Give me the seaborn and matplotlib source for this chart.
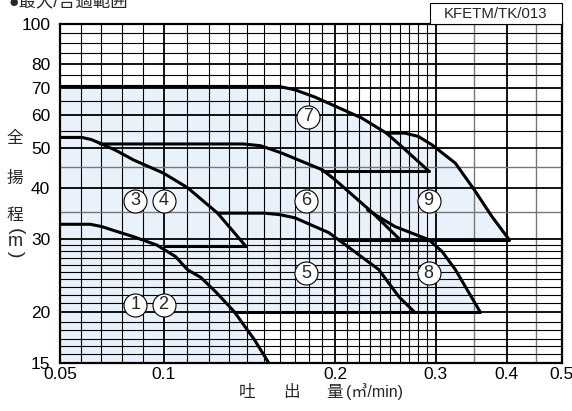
import numpy as np
import matplotlib
matplotlib.use("Agg")
import matplotlib.pyplot as plt
import seaborn as sns
from matplotlib.patches import Rectangle
from matplotlib.ticker import NullLocator

# 吐出量 (m3/min) と 全揚程 (m) : 各ポンプ範囲の上側カーブ
q_12 = [0.05, 0.0646, 0.070, 0.075, 0.0856, 0.0969, 0.105, 0.1101, 0.1163, 0.124, 0.133, 0.1443, 0.153]
h_12 = [32.6, 32.6, 32.2, 31.6, 30.4, 29.0, 27.2, 25.3, 24.2, 22.2, 20.0, 17.1, 15.0]
q_34 = [0.05, 0.0605, 0.065, 0.0694, 0.077, 0.0856, 0.100, 0.1102, 0.1244, 0.1395]
h_34 = [53.0, 53.0, 52.4, 51.3, 49.3, 46.7, 43.4, 40.0, 34.7, 28.8]
q_5 = [0.1245, 0.150, 0.160, 0.170, 0.195, 0.211, 0.2385, 0.259, 0.275]
h_5 = [34.7, 34.7, 34.4, 33.8, 31.1, 28.7, 25.3, 21.7, 20.0]
q_6 = [0.0694, 0.138, 0.148, 0.161, 0.190, 0.200, 0.232, 0.260]
h_6 = [51.1, 51.1, 50.6, 48.6, 44.2, 41.8, 34.9, 29.9]
q_7 = [0.05, 0.1595, 0.170, 0.184, 0.2226, 0.246, 0.262, 0.292]
h_7 = [70.5, 70.5, 69.2, 66.5, 59.1, 54.3, 50.3, 43.9]
q_8 = [0.228, 0.2545, 0.292, 0.308, 0.325, 0.359]
h_8 = [35.3, 32.2, 29.9, 28.0, 25.3, 20.0]
q_9 = [0.246, 0.265, 0.280, 0.296, 0.325, 0.351, 0.377, 0.404]
h_9 = [54.3, 54.3, 53.3, 50.8, 45.9, 39.5, 34.0, 29.9]

# 各範囲の下限揚程
bottoms = [15.0, 28.8, 20.0, 29.9, 43.9, 20.0, 29.9]

# 見えている下限線 (揚程, 始点, 終点)
base_h = [28.8, 20.0, 29.9, 43.9]
base_q0 = [0.100, 0.133, 0.203, 0.190]
base_q1 = [0.1395, 0.359, 0.404, 0.292]

# 番号ラベル
lab_txt = ["1", "2", "3", "4", "5", "6", "7", "8", "9"]
lab_q = [0.0864, 0.100, 0.0864, 0.100, 0.178, 0.178, 0.179, 0.2918, 0.2918]
lab_h = [20.8, 20.8, 37.2, 37.2, 24.8, 37.2, 59.5, 24.8, 37.2]

x_ticks = [0.05, 0.1, 0.2, 0.3, 0.4, 0.5]
x_ticklabels = ["0.05", "0.1", "0.2", "0.3", "0.4", "0.5"]
y_ticks = [15, 20, 30, 40, 50, 60, 70, 80, 100]

BLUE = "#e9f1fa"
W, H = 572, 411
SEG = 103 / 567  # 0.05-0.1 の区間は等間隔で圧縮


def fwd(x):
    x = np.asarray(x, dtype=float)
    lin = -1.0 + (x - 0.1) / 0.05 * SEG
    lg = np.log10(np.clip(x, 1e-6, None))
    return np.where(x < 0.1, lin, lg)


def inv(t):
    t = np.asarray(t, dtype=float)
    lin = 0.1 + (t + 1.0) / SEG * 0.05
    lg = 10.0 ** np.clip(t, -10, 10)
    return np.where(t < -1.0, lin, lg)


def fp(x, y):
    return x / W, 1 - y / H


sns.set_theme(style="white")
plt.rcParams["font.family"] = ["Liberation Sans", "Noto Sans CJK JP", "DejaVu Sans"]

fig = plt.figure(figsize=(W / 100, H / 100), dpi=100)
fig.patch.set_facecolor("white")
ax = fig.add_axes([60 / W, (H - 363) / H, 502 / W, 339 / H])
ax.set_xscale("function", functions=(fwd, inv))
ax.set_yscale("log")
ax.set_facecolor("white")

# 塗りつぶし
regions = [(q_12, h_12), (q_34, h_34), (q_5, h_5), (q_6, h_6),
           (q_7, h_7), (q_8, h_8), (q_9, h_9)]
for (q, h), b in zip(regions, bottoms):
    xs = [0.05] + list(q) + [q[-1], 0.05]
    ys = [h[0]] + list(h) + [b, b]
    ax.fill(xs, ys, color=BLUE, lw=0, zorder=0)

# グリッド
v_minor = [0.06, 0.07, 0.08, 0.09] + [round(0.11 + 0.01 * i, 2) for i in range(9)] \
    + [round(0.21 + 0.01 * i, 2) for i in range(9)]
for v in v_minor:
    ax.axvline(v, color="black", lw=0.8, zorder=1)
for v in [0.1, 0.2, 0.3, 0.4]:
    ax.axvline(v, color="black", lw=1.3, zorder=1)
for v in [0.35, 0.45]:
    ax.axvline(v, color="#777777", lw=1.0, zorder=1)

h_minor = [15.8, 16.5, 17.2, 18.05, 18.9] + list(range(21, 30)) + [55, 65, 75, 85, 90, 95]
for v in h_minor:
    ax.axhline(v, color="black", lw=0.8, zorder=1)
for v in [20, 30, 40, 50, 60, 70, 80]:
    ax.axhline(v, color="black", lw=1.3, zorder=1)
for v in [35, 45]:
    ax.axhline(v, color="#777777", lw=1.0, zorder=1)

# カーブ
for q, h in regions:
    sns.lineplot(x=q, y=h, ax=ax, color="black", linewidth=2.2,
                 sort=False, estimator=None, zorder=3)
for b, q0, q1 in zip(base_h, base_q0, base_q1):
    sns.lineplot(x=[q0, q1], y=[b, b], ax=ax, color="black", linewidth=2.2,
                 sort=False, estimator=None, zorder=3)

# 番号ラベル
ax.scatter(lab_q, lab_h, s=275, facecolor="white", edgecolor="black",
           linewidths=0.8, zorder=4)
for t, q, h in zip(lab_txt, lab_q, lab_h):
    ax.text(q, h, t, ha="center", va="center", fontsize=13, zorder=5)

ax.set_xlim(0.05, 0.5)
ax.set_ylim(15, 100)
ax.set_xticks(x_ticks)
ax.set_xticklabels(x_ticklabels)
ax.set_yticks(y_ticks)
ax.set_yticklabels([str(v) for v in y_ticks])
ax.xaxis.set_minor_locator(NullLocator())
ax.yaxis.set_minor_locator(NullLocator())
ax.tick_params(axis="y", length=0, pad=7, labelsize=12.5, colors="black")
ax.tick_params(axis="x", length=0, pad=3, labelsize=12.5, colors="black")
ax.set_xlabel("")
ax.set_ylabel("")
for s in ax.spines.values():
    s.set_color("black")
    s.set_linewidth(1.6)
    s.set_zorder(6)

# タイトル (上端で切れている)
fig.text(*fp(8, 1), "●最大/合適範囲", ha="left", va="center", fontsize=12.5)

# 図番
bx0, by0 = fp(430, 24)
fig.patches.append(Rectangle((bx0, by0), 132 / W, 21 / H, transform=fig.transFigure,
                             facecolor="white", edgecolor="black", lw=0.8))
fig.text(*fp(496, 13.5), "KFETM/TK/013", ha="center", va="center", fontsize=10.8)

# 縦軸ラベル
for ch, yy in zip(["全", "揚", "程"], [138, 178, 215]):
    fig.text(*fp(15, yy), ch, ha="center", va="center", fontsize=12)
fig.text(*fp(15, 231), "(", ha="center", va="center", fontsize=14, rotation=-90)
fig.text(*fp(15, 242), "m", ha="center", va="center", fontsize=13)
fig.text(*fp(15, 254), ")", ha="center", va="center", fontsize=14, rotation=-90)

# 横軸ラベル
for ch, xx in zip(["吐", "出", "量"], [247, 291, 335]):
    fig.text(*fp(xx, 392), ch, ha="center", va="center", fontsize=12)
fig.text(*fp(346, 392), "(㎥/min)", ha="left", va="center", fontsize=11.5)

fig.savefig("out.png", dpi=100)
